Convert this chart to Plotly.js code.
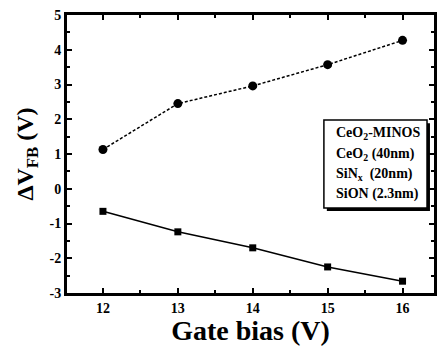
<!DOCTYPE html>
<html><head><meta charset="utf-8">
<script src="https://cdn.plot.ly/plotly-3.0.1.min.js"></script>
<style>html,body{margin:0;padding:0;background:#fff}#c{width:440px;height:346px}</style>
</head><body><div id="c"></div>
<script>
const gateBias = [12, 13, 14, 15, 16];
const upperShift = [1.13, 2.45, 2.96, 3.57, 4.27];
const lowerShift = [-0.65, -1.24, -1.70, -2.25, -2.66];
const xTicks = [12, 13, 14, 15, 16];
const yTicks = [-3, -2, -1, 0, 1, 2, 3, 4, 5];
const legendLines = ["CeO<sub>2</sub>-MINOS", "CeO<sub>2</sub> (40nm)", "SiN<sub>x</sub>  (20nm)", "SiON (2.3nm)"];

const F = "Liberation Serif, Times New Roman, serif";
const traces = [
  {x: gateBias, y: upperShift, mode: "lines+markers", line: {color: "#000", width: 1.5, dash: "3px,2px"},
   marker: {symbol: "circle", size: 9, color: "#000"}, showlegend: false},
  {x: gateBias, y: lowerShift, mode: "lines+markers", line: {color: "#000", width: 1.5},
   marker: {symbol: "square", size: 7, color: "#000"}, showlegend: false}
];
const axisCommon = {showgrid: false, zeroline: false, showline: true, linecolor: "#000", linewidth: 3,
  mirror: "ticks", ticks: "inside", ticklen: 5, tickwidth: 2, tickcolor: "#000",
  tickfont: {family: F, size: 14, color: "#000", weight: "bold"}};

const lineY = [0.574, 0.500, 0.428, 0.356];
const annotations = legendLines.map((t, i) => ({
  xref: "paper", yref: "paper", x: 0.7275, y: lineY[i], xanchor: "left", yanchor: "middle",
  text: t, showarrow: false, align: "left",
  font: {family: F, size: 14, color: "#000", weight: "bold"}
}));

const layout = {
  width: 440, height: 346,
  margin: {l: 67, r: 6, t: 15, b: 53},
  paper_bgcolor: "#fff", plot_bgcolor: "#fff",
  xaxis: Object.assign({}, axisCommon, {range: [11.52, 16.42], tickvals: xTicks, ticktext: xTicks.map(String),
    minor: {dtick: 0.5, ticks: "inside", ticklen: 3, tickwidth: 2, tickcolor: "#000"},
    title: {text: "Gate bias (V)", font: {family: F, size: 28, color: "#000", weight: "bold"}, standoff: 2}}),
  yaxis: Object.assign({}, axisCommon, {range: [-3, 5], tickvals: yTicks, ticktext: yTicks.map(String),
    minor: {dtick: 0.5, ticks: "inside", ticklen: 3, tickwidth: 2, tickcolor: "#000"},
    title: {text: "ΔV<sub>FB</sub> (V)", font: {family: F, size: 24, color: "#000", weight: "bold"}, standoff: 10}}),
  shapes: [
    {type: "rect", xref: "paper", yref: "paper", x0: 0.708, x1: 0.989, y0: 0.295, y1: 0.611, fillcolor: "#000", line: {width: 0}, layer: "above"},
    {type: "rect", xref: "paper", yref: "paper", x0: 0.700, x1: 0.981, y0: 0.306, y1: 0.622, fillcolor: "#fff", line: {color: "#000", width: 1.5}, layer: "above"}
  ],
  annotations: annotations
};
Plotly.newPlot("c", traces, layout, {displayModeBar: false, staticPlot: true});
</script></body></html>
